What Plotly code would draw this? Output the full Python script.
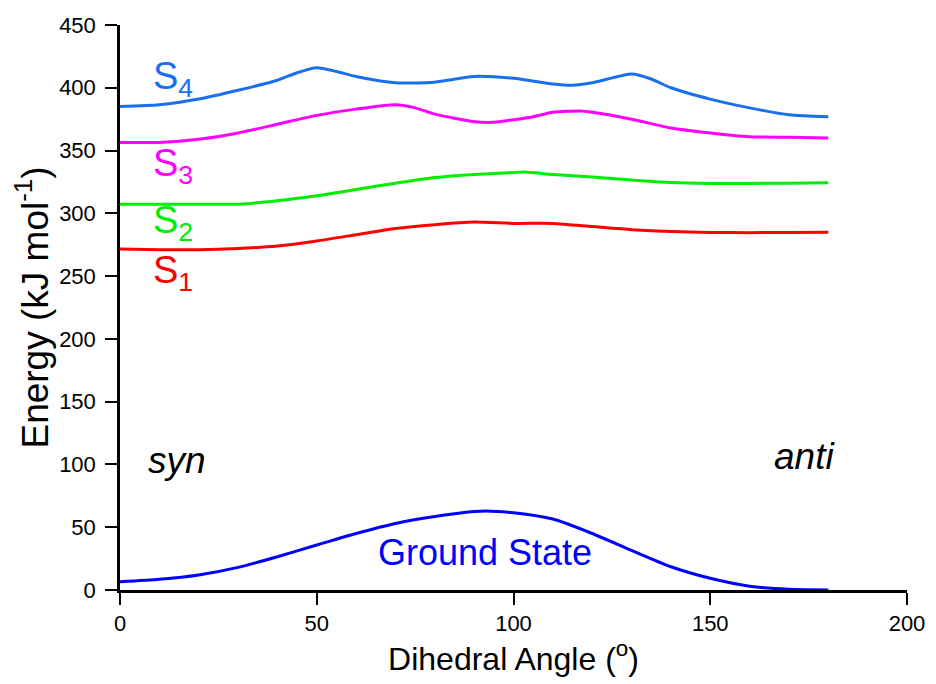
import plotly.graph_objects as go

# Data
s4_x = [0, 10, 20, 30, 40, 45, 50, 55, 60, 70, 80, 90, 100, 110, 115, 120, 130, 135, 140, 150, 160, 170, 180]
s4_y = [385, 386.5, 391, 398, 406, 412, 416, 413, 409, 404, 404.5, 409, 407.5, 403, 402, 404, 411, 407, 400, 391, 384, 378.5, 377]

s3_x = [0, 10, 20, 30, 40, 50, 60, 70, 75, 80, 90, 95, 100, 105, 110, 117, 120, 130, 140, 150, 160, 170, 180]
s3_y = [356.5, 356.5, 359, 364, 371, 378, 383, 386.5, 384, 379, 373, 372.5, 374.5, 377, 380.5, 381.5, 380.5, 375, 368, 364, 361, 360.5, 360]

s2_x = [0, 10, 20, 30, 40, 50, 60, 70, 80, 90, 100, 103, 110, 120, 130, 140, 150, 160, 170, 180]
s2_y = [307.3, 307.3, 307.3, 307.3, 310, 314, 319, 324, 328.5, 331, 332.5, 333, 331, 329, 326.5, 324.5, 323.8, 323.8, 324, 324.4]

s1_x = [0, 10, 20, 30, 40, 50, 60, 70, 80, 90, 100, 110, 120, 130, 140, 150, 160, 170, 180]
s1_y = [271.5, 271, 271, 272, 274, 278, 283, 288, 291, 293, 292, 292, 289.5, 287, 285.5, 284.8, 284.6, 284.8, 285]

gs_x = [0, 10, 20, 30, 40, 50, 60, 70, 80, 90, 93, 100, 110, 120, 130, 140, 150, 160, 170, 180]
gs_y = [6.5, 8.5, 12, 18, 26.5, 35.8, 45, 53, 58.5, 62.5, 63, 61.5, 56.5, 45, 31.5, 18.5, 9.3, 3, 0.5, 0]

x_ticks = [0, 50, 100, 150, 200]
y_ticks = [0, 50, 100, 150, 200, 250, 300, 350, 400, 450]

series = [
    (s4_x, s4_y, "#1a6ff0"),
    (s3_x, s3_y, "#ff00ff"),
    (s2_x, s2_y, "#00ee00"),
    (s1_x, s1_y, "#ff0000"),
    (gs_x, gs_y, "#0000ff"),
]

fig = go.Figure()
for xs, ys, c in series:
    fig.add_trace(go.Scatter(x=xs, y=ys, mode="lines",
                             line=dict(color=c, width=3, shape="spline", smoothing=0.6),
                             showlegend=False, hoverinfo="skip"))

font_family = "Liberation Sans, Arial, sans-serif"

ann = [
    (13.5, 407, "S<sub>4</sub>", "#1a6ff0", False, 38),
    (13.5, 337.5, "S<sub>3</sub>", "#ff00ff", False, 38),
    (13.5, 292, "S<sub>2</sub>", "#00ee00", False, 38),
    (13.5, 252.5, "S<sub>1</sub>", "#ff0000", False, 38),
    (14.5, 103.5, "syn", "black", True, 37),
    (174, 106, "anti", "black", True, 37),
    (92.8, 30, "Ground State", "#0000ff", False, 36),
]
for x, y, t, c, it, sz in ann:
    fig.add_annotation(x=x, y=y, text=("<i>%s</i>" % t) if it else t, showarrow=False,
                       font=dict(family=font_family, size=sz, color=c),
                       xanchor="center", yanchor="middle")

fig.update_layout(
    width=936, height=684,
    margin=dict(l=120, r=29, t=25, b=94),
    paper_bgcolor="white", plot_bgcolor="white",
    font=dict(family=font_family, color="black"),
    xaxis=dict(range=[0, 200], tickvals=x_ticks, ticks="outside", ticklen=12, tickwidth=2,
               tickcolor="black", showline=True, linewidth=2.5, linecolor="black",
               showgrid=False, zeroline=False, tickfont=dict(size=22),
               title=dict(text="Dihedral Angle (<sup>o</sup>)", font=dict(size=32), standoff=4)),
    yaxis=dict(range=[0, 450], tickvals=y_ticks, ticks="outside", ticklen=12, tickwidth=2,
               tickcolor="black", showline=True, linewidth=2.5, linecolor="black",
               showgrid=False, zeroline=False, tickfont=dict(size=22), ticklabelstandoff=5,
               title=dict(text="Energy (kJ mol<sup>-1</sup>)", font=dict(size=37), standoff=0)),
)

fig.write_html("out.html")
